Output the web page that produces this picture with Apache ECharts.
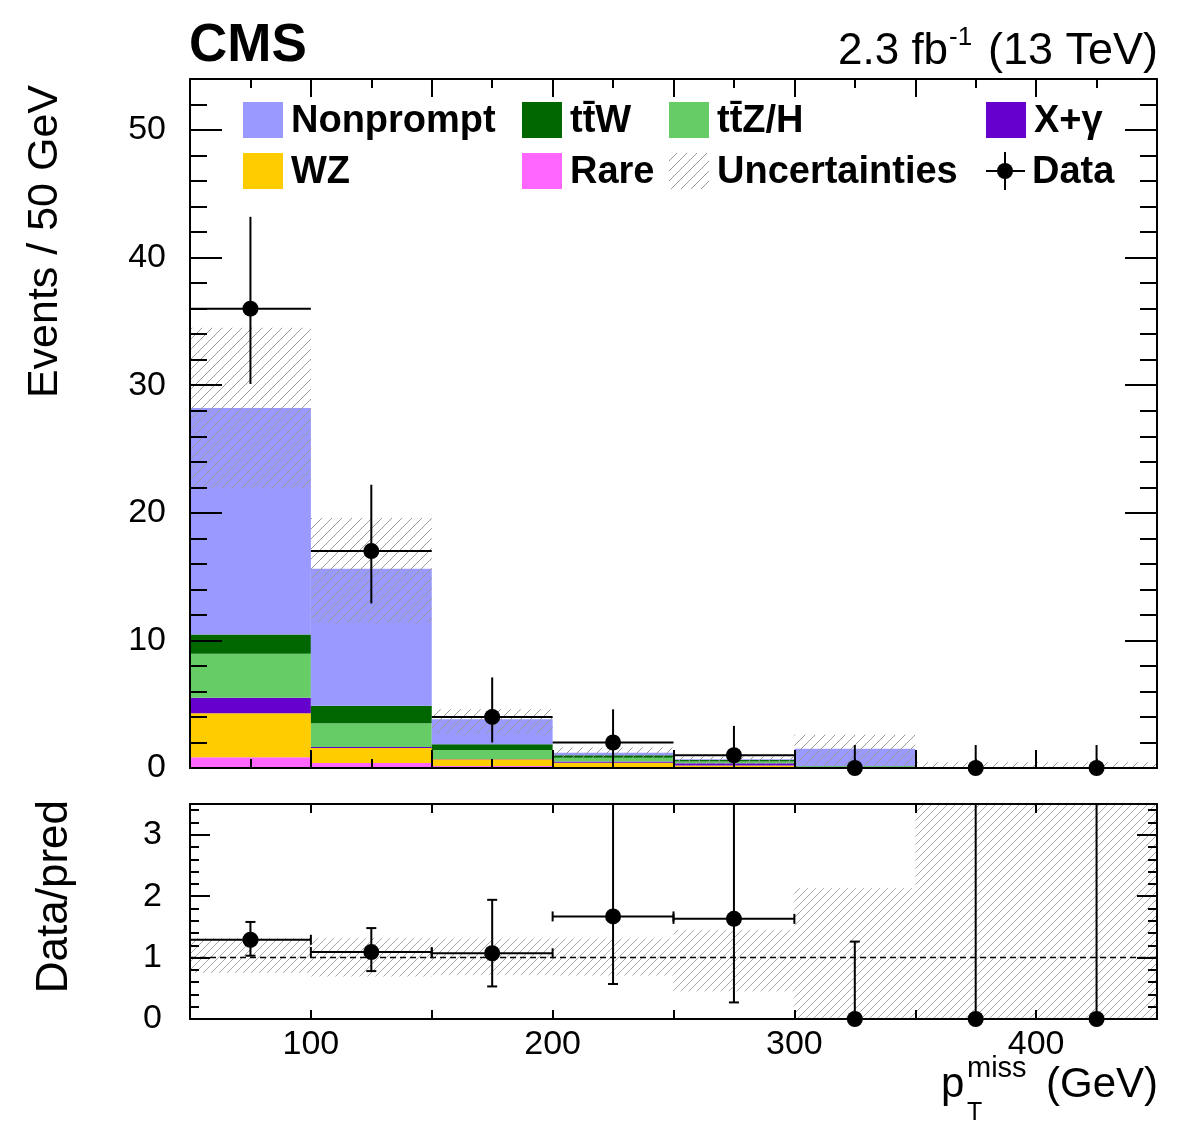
<!DOCTYPE html>
<html>
<head>
<meta charset="utf-8">
<title>pTmiss</title>
<style>html,body{margin:0;padding:0;background:#fff;}</style>
</head>
<body>
<div id="graph" style="width:1182px;height:1121px;"></div>
<script src="https://cdn.jsdelivr.net/npm/echarts@6/dist/echarts.min.js"></script>
<script>
// bin edges (GeV)
const binEdges = [50, 100, 150, 200, 250, 300, 350, 400, 450];

// predicted yields per bin, stacked bottom to top
const rare      = [0.85, 0.40, 0.16, 0.08, 0.05, 0.02, 0.01, 0.01];
const wz        = [3.45, 1.17, 0.52, 0.34, 0.15, 0.05, 0.02, 0.02];
const xGamma    = [1.20, 0.08, 0.03, 0.08, 0.17, 0.00, 0.00, 0.00];
const ttZH      = [3.46, 1.85, 0.70, 0.31, 0.13, 0.06, 0.00, 0.00];
const ttW       = [1.50, 1.37, 0.45, 0.19, 0.13, 0.02, 0.00, 0.00];
const nonprompt = [17.75, 10.75, 1.96, 0.20, 0.05, 1.35, 0.00, 0.00];

// total prediction uncertainty band
const uncLow  = [21.9, 11.4, 2.7, 0.8, 0.3, 0, 0, 0];
const uncHigh = [34.5, 19.6, 4.6, 1.6, 0.9, 2.6, 0.45, 0.45];

// observed events and error bars
const dataVal  = [36, 17, 4, 2, 1, 0, 0, 0];
const dataLow  = [30.1, 12.9, 2.0, 0.7, 0.2, 0, 0, 0];
const dataHigh = [43.2, 22.2, 7.1, 4.6, 3.3, 1.8, 1.8, 1.8];

// ratio panel
const ratioVal     = [1.29, 1.09, 1.07, 1.67, 1.63, 0, 0, 0];
const ratioLow     = [1.03, 0.78, 0.53, 0.57, 0.27, 0, 0, 0];
const ratioHigh    = [1.58, 1.48, 1.94, 4.0, 4.0, 1.26, 4.0, 4.0];
const ratioUncLow  = [0.75, 0.69, 0.72, 0.71, 0.45, 0, 0, 0];
const ratioUncHigh = [1.32, 1.32, 1.31, 1.31, 1.45, 2.13, 4.0, 4.0];

const FONT = '"Liberation Sans", Arial, Helvetica, sans-serif';
const TOP_MAX = 54, RATIO_MAX = 3.5;

function hatch(size, color) {
    const c = document.createElement('canvas');
    c.width = size; c.height = size;
    const g = c.getContext('2d');
    g.strokeStyle = color;
    g.lineWidth = 1;
    g.beginPath();
    g.moveTo(0, size); g.lineTo(size, 0);
    g.moveTo(-2, 2); g.lineTo(2, -2);
    g.moveTo(size - 2, size + 2); g.lineTo(size + 2, size - 2);
    g.stroke();
    return c;
}
const hatchTop = {image: hatch(10, '#9a9a9a'), repeat: 'repeat'};
const hatchRatio = {image: hatch(8, '#a8a8a8'), repeat: 'repeat'};

// histogram rectangle from [x0, x1, y0, y1]
function histRect(params, api) {
    const a = api.coord([api.value(0), api.value(3)]);
    const b = api.coord([api.value(1), api.value(2)]);
    return {
        type: 'rect',
        shape: {x: a[0], y: a[1], width: b[0] - a[0], height: b[1] - a[1]},
        style: {fill: api.visual('color')}
    };
}

function bandRect(pattern) {
    return function (params, api) {
        const a = api.coord([api.value(0), api.value(3)]);
        const b = api.coord([api.value(1), api.value(2)]);
        return {
            type: 'rect',
            shape: {x: a[0], y: a[1], width: b[0] - a[0], height: b[1] - a[1]},
            style: {fill: pattern}
        };
    };
}

// data point with error bars from [x0, x1, v, lo, hi]
function dataPoint(ymax, caps) {
    return function (params, api) {
        const x0 = api.value(0), x1 = api.value(1), v = api.value(2);
        const lo = api.value(3), hiRaw = api.value(4);
        const hi = Math.min(hiRaw, ymax);
        const xc = (x0 + x1) / 2;
        const c = api.coord([xc, v]);
        const l = api.coord([x0, v]);
        const r = api.coord([x1, v]);
        const pl = api.coord([xc, lo]);
        const ph = api.coord([xc, hi]);
        const st = {stroke: '#000', lineWidth: 2};
        const kids = [];
        kids.push({type: 'line', shape: {x1: c[0], y1: pl[1], x2: c[0], y2: ph[1]}, style: st});
        if (v > 0) {
            kids.push({type: 'line', shape: {x1: l[0], y1: c[1], x2: r[0], y2: c[1]}, style: st});
            if (caps) {
                kids.push({type: 'line', shape: {x1: l[0], y1: c[1] - 5, x2: l[0], y2: c[1] + 5}, style: st});
                kids.push({type: 'line', shape: {x1: r[0], y1: c[1] - 5, x2: r[0], y2: c[1] + 5}, style: st});
            }
        }
        if (caps) {
            if (hiRaw <= ymax) kids.push({type: 'line', shape: {x1: c[0] - 5, y1: ph[1], x2: c[0] + 5, y2: ph[1]}, style: st});
            if (lo > 0) kids.push({type: 'line', shape: {x1: c[0] - 5, y1: pl[1], x2: c[0] + 5, y2: pl[1]}, style: st});
        }
        kids.push({type: 'circle', shape: {cx: c[0], cy: c[1], r: 8}, style: {fill: '#000'}});
        return {type: 'group', children: kids};
    };
}

// stack build
const processes = [
    {name: 'Rare', vals: rare, color: '#ff66ff'},
    {name: 'WZ', vals: wz, color: '#ffcc00'},
    {name: 'X+γ', vals: xGamma, color: '#6600cc'},
    {name: 'tt̄Z/H', vals: ttZH, color: '#66cc66'},
    {name: 'tt̄W', vals: ttW, color: '#006600'},
    {name: 'Nonprompt', vals: nonprompt, color: '#9999ff'}
];

const series = [];
let base = binEdges.slice(0, -1).map(() => 0);
processes.forEach(p => {
    const rows = p.vals.map((v, i) => [binEdges[i], binEdges[i + 1], base[i], base[i] + v]);
    base = base.map((b, i) => b + p.vals[i]);
    series.push({
        type: 'custom', name: p.name, xAxisIndex: 0, yAxisIndex: 0, z: 2,
        renderItem: histRect, itemStyle: {color: p.color},
        encode: {x: [0, 1], y: [2, 3]}, data: rows
    });
});

series.push({
    type: 'custom', name: 'Uncertainties', xAxisIndex: 0, yAxisIndex: 0, z: 3,
    renderItem: bandRect(hatchTop), encode: {x: [0, 1], y: [2, 3]},
    data: uncLow.map((lo, i) => [binEdges[i], binEdges[i + 1], lo, uncHigh[i]])
});

series.push({
    type: 'custom', name: 'Data', xAxisIndex: 0, yAxisIndex: 0, z: 20,
    renderItem: dataPoint(TOP_MAX, false), encode: {x: [0, 1], y: [2, 4]},
    data: dataVal.map((v, i) => [binEdges[i], binEdges[i + 1], v, dataLow[i], dataHigh[i]])
});

// ratio panel
series.push({
    type: 'custom', name: 'ratio unc', xAxisIndex: 4, yAxisIndex: 4, z: 3, clip: true,
    renderItem: bandRect(hatchRatio), encode: {x: [0, 1], y: [2, 3]},
    data: ratioUncLow.map((lo, i) => [binEdges[i], binEdges[i + 1], lo, ratioUncHigh[i]])
});
series.push({
    type: 'line', xAxisIndex: 4, yAxisIndex: 4, z: 4, symbol: 'none', silent: true,
    lineStyle: {color: '#000', width: 1.5, type: [6, 4]},
    data: [[binEdges[0], 1], [binEdges[binEdges.length - 1], 1]]
});
series.push({
    type: 'custom', name: 'ratio data', xAxisIndex: 4, yAxisIndex: 4, z: 20,
    renderItem: dataPoint(RATIO_MAX, true), encode: {x: [0, 1], y: [2, 3]},
    data: ratioVal.map((v, i) => [binEdges[i], binEdges[i + 1], v, ratioLow[i], ratioHigh[i]])
});

// axes
function xAx(grid, pos, interval, len, line, labels) {
    return {
        type: 'value', gridIndex: grid, position: pos, min: 50, max: 450, interval: interval, z: 10,
        axisLine: {show: line, onZero: false, lineStyle: {color: '#000', width: 2}},
        axisTick: {show: true, inside: true, length: len, lineStyle: {color: '#000', width: 2}},
        splitLine: {show: false},
        axisLabel: labels ? {
            show: true, fontSize: 34, color: '#000', fontFamily: FONT, margin: 9,
            formatter: v => (v % 100 === 0 && v > 50 && v < 450) ? String(v) : ''
        } : {show: false}
    };
}
function yAx(grid, pos, max, interval, len, line, labels, step, margin) {
    return {
        type: 'value', gridIndex: grid, position: pos, min: 0, max: max, interval: interval, z: 10,
        axisLine: {show: line, onZero: false, lineStyle: {color: '#000', width: 2}},
        axisTick: {show: true, inside: true, length: len, lineStyle: {color: '#000', width: 2}},
        splitLine: {show: false},
        axisLabel: labels ? {
            show: true, fontSize: 34, color: '#000', fontFamily: FONT, margin: margin,
            formatter: v => (Math.abs(v % step) < 1e-6 && v < max) ? String(v) : ''
        } : {show: false}
    };
}

const xAxes = [
    xAx(0, 'bottom', 50, 18, true, false),
    xAx(0, 'bottom', 25, 9, false, false),
    xAx(0, 'top', 50, 18, true, false),
    xAx(0, 'top', 25, 9, false, false),
    xAx(1, 'bottom', 50, 9, true, true),
    xAx(1, 'top', 50, 9, true, false)
];
const yAxes = [
    yAx(0, 'left', TOP_MAX, 10, 32, true, true, 10, 24),
    yAx(0, 'left', TOP_MAX, 2, 17, false, false),
    yAx(0, 'right', TOP_MAX, 10, 32, true, false),
    yAx(0, 'right', TOP_MAX, 2, 17, false, false),
    yAx(1, 'left', RATIO_MAX, 1, 20, true, true, 1, 28),
    yAx(1, 'left', RATIO_MAX, 0.2, 9, false, false),
    yAx(1, 'right', RATIO_MAX, 1, 20, true, false),
    yAx(1, 'right', RATIO_MAX, 0.2, 9, false, false)
];

// legend and titles
const legendRows = [
    {label: 'Nonprompt', color: '#9999ff', x: 243, y: 102},
    {label: 'tt̄W', color: '#006600', x: 522, y: 102},
    {label: 'tt̄Z/H', color: '#66cc66', x: 669, y: 102},
    {label: 'X+γ', color: '#6600cc', x: 986, y: 102},
    {label: 'WZ', color: '#ffcc00', x: 243, y: 153},
    {label: 'Rare', color: '#ff66ff', x: 522, y: 153},
    {label: 'Uncertainties', color: hatchTop, x: 669, y: 153}
];
const graphics = [];
legendRows.forEach(e => {
    graphics.push({type: 'rect', z: 30, shape: {x: e.x, y: e.y, width: 40, height: 36}, style: {fill: e.color}});
    graphics.push({type: 'text', z: 30, x: e.x + 48, y: e.y + 20,
        style: {text: e.label, font: 'bold 38px ' + FONT, fill: '#000', align: 'left', verticalAlign: 'middle'}});
});
graphics.push({type: 'line', z: 30, shape: {x1: 986, y1: 171, x2: 1025, y2: 171}, style: {stroke: '#000', lineWidth: 2}});
graphics.push({type: 'line', z: 30, shape: {x1: 1005, y1: 152, x2: 1005, y2: 190}, style: {stroke: '#000', lineWidth: 2}});
graphics.push({type: 'circle', z: 30, shape: {cx: 1005, cy: 171, r: 8}, style: {fill: '#000'}});
graphics.push({type: 'text', z: 30, x: 1032, y: 173,
    style: {text: 'Data', font: 'bold 38px ' + FONT, fill: '#000', align: 'left', verticalAlign: 'middle'}});

graphics.push({type: 'text', x: 189, y: 46,
    style: {text: 'CMS', font: 'bold 53px ' + FONT, fill: '#000', align: 'left', verticalAlign: 'middle'}});
graphics.push({type: 'text', x: 838, y: 52,
    style: {text: '2.3 fb', font: '44px ' + FONT, fill: '#000', align: 'left', verticalAlign: 'middle'}});
graphics.push({type: 'text', x: 949, y: 38,
    style: {text: '-1', font: '26px ' + FONT, fill: '#000', align: 'left', verticalAlign: 'middle'}});
graphics.push({type: 'text', x: 1158, y: 52,
    style: {text: '(13 TeV)', font: '45px ' + FONT, fill: '#000', align: 'right', verticalAlign: 'middle'}});

graphics.push({type: 'text', x: 45, y: 85, rotation: Math.PI / 2,
    style: {text: 'Events / 50 GeV', font: '43px ' + FONT, fill: '#000', align: 'right', verticalAlign: 'middle'}});
graphics.push({type: 'text', x: 55, y: 800, rotation: Math.PI / 2,
    style: {text: 'Data/pred', font: '44px ' + FONT, fill: '#000', align: 'right', verticalAlign: 'middle'}});

graphics.push({type: 'text', x: 941, y: 1085,
    style: {text: 'p', font: '42px ' + FONT, fill: '#000', align: 'left', verticalAlign: 'middle'}});
graphics.push({type: 'text', x: 967, y: 1069,
    style: {text: 'miss', font: '29px ' + FONT, fill: '#000', align: 'left', verticalAlign: 'middle'}});
graphics.push({type: 'text', x: 967, y: 1113,
    style: {text: 'T', font: '25px ' + FONT, fill: '#000', align: 'left', verticalAlign: 'middle'}});
graphics.push({type: 'text', x: 1158, y: 1085,
    style: {text: '(GeV)', font: '42px ' + FONT, fill: '#000', align: 'right', verticalAlign: 'middle'}});

const chart = echarts.init(document.getElementById('graph'));
chart.setOption({
    animation: false,
    backgroundColor: '#fff',
    grid: [
        {left: 190, right: 25, top: 79, height: 689},
        {left: 190, right: 25, top: 804, height: 215}
    ],
    xAxis: xAxes,
    yAxis: yAxes,
    series: series,
    graphic: graphics
});
</script>
</body>
</html>
